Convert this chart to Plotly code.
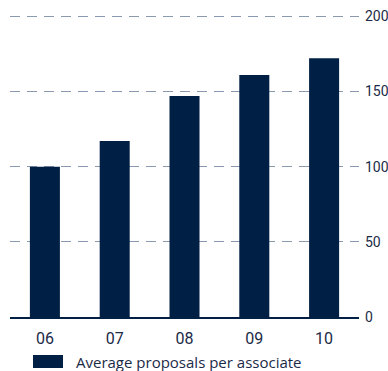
import plotly.graph_objects as go

years = ["06", "07", "08", "09", "10"]
proposals = [100, 117, 147, 161, 172]
y_ticks = [0, 50, 100, 150, 200]
series_name = "Average proposals per associate"

NAVY = "#001f44"
GRID = "#8a99b0"
TEXT = "#1b2b47"

fig = go.Figure()
fig.add_trace(go.Bar(
    x=years, y=proposals, name=series_name,
    marker=dict(color=NAVY, line=dict(width=0)),
    width=0.43, showlegend=False,
))

fig.update_layout(
    width=388, height=371,
    margin=dict(l=10, r=29, t=14, b=54, autoexpand=False),
    paper_bgcolor="white", plot_bgcolor="white",
    font=dict(family="Roboto", color=TEXT),
    xaxis=dict(
        type="category", range=[-0.5, 4.5], automargin=False,
        showline=True, linecolor=NAVY, linewidth=2,
        showgrid=False, ticks="", tickfont=dict(size=16, color=TEXT),
        ticklabelstandoff=6,
    ),
    yaxis=dict(
        range=[0, 201.5], tickvals=y_ticks, side="right", automargin=False,
        showgrid=True, gridcolor=GRID, gridwidth=1.3, griddash="10px,7px",
        zeroline=False, showline=False, ticks="",
        tickfont=dict(size=14, color=TEXT), ticklabelstandoff=5,
    ),
    shapes=[dict(
        type="rect", xref="paper", yref="paper",
        x0=(33 - 10) / 349, x1=(63 - 10) / 349,
        y0=-(368 - 317) / 303, y1=-(355 - 317) / 303,
        fillcolor=NAVY, line=dict(width=0),
    )],
    annotations=[dict(
        text=series_name, xref="paper", yref="paper",
        x=(74 - 10) / 349, y=-(361.5 - 317) / 303,
        xanchor="left", yanchor="middle", showarrow=False,
        font=dict(family="Open Sans", size=15, color=TEXT),
    )],
)

fig.write_html("out.html")
